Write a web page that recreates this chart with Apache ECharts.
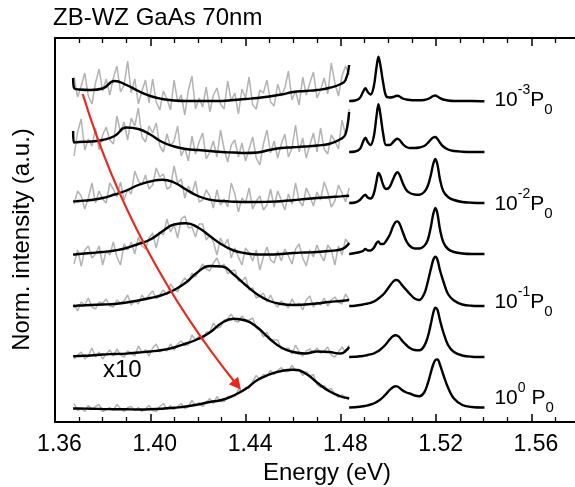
<!DOCTYPE html>
<html>
<head>
<meta charset="utf-8">
<script src="https://cdn.jsdelivr.net/npm/echarts@6/dist/echarts.min.js"></script>
<style>
  html, body { margin: 0; padding: 0; background: #ffffff; overflow: hidden; }
  #chart { width: 575px; height: 487px; }
</style>
</head>
<body>
<div id="chart"></div>
<script>
// Power-dependent PL spectra of ZB-WZ GaAs nanowires (70 nm), stacked with vertical offsets.
// Left part (1.368-1.4835 eV) is magnified x10; right part shows the near-band-edge peaks.

// Vertical offset of each spectrum (a.u.), lowest power at top
const offsets = [321, 270, 219, 168, 116, 65, 14.5];

// Energy grid of the raw (noisy) low-energy data
const energyRaw = [1.3680,1.3695,1.3710,1.3725,1.3740,1.3755,1.3770,1.3785,1.3800,1.3815,1.3830,1.3845,1.3860,1.3875,1.3890,1.3905,1.3920,1.3935,1.3950,1.3965,1.3980,1.3995,1.4010,1.4025,1.4040,1.4055,1.4070,1.4085,1.4100,1.4115,1.4130,1.4145,1.4160,1.4175,1.4190,1.4205,1.4220,1.4235,1.4250,1.4265,1.4280,1.4295,1.4310,1.4325,1.4340,1.4355,1.4370,1.4385,1.4400,1.4415,1.4430,1.4445,1.4460,1.4475,1.4490,1.4505,1.4520,1.4535,1.4550,1.4565,1.4580,1.4595,1.4610,1.4625,1.4640,1.4655,1.4670,1.4685,1.4700,1.4715,1.4730,1.4745,1.4760,1.4775,1.4790,1.4805,1.4820,1.4835];

// Raw low-energy intensities (x10), one array per excitation power
const raw1 = [24,4,15,28,5,-3,18,32,10,22,6,23,35,9,16,40,8,22,-3,10,21,-2,22,-1,-9,10,2,-9,21,-1,6,-14,11,25,-8,3,-6,14,-11,6,13,-3,-8,20,0,8,-13,12,3,24,-4,-8,11,8,21,-1,-5,17,5,13,30,1,10,-4,24,6,18,29,3,11,23,7,38,18,5,25,35,26];
const raw2 = [-4,20,33,2,13,6,24,2,17,25,12,8,36,20,30,12,34,26,44,15,10,26,19,29,6,0,18,6,11,26,-4,4,-9,16,-2,10,19,-7,0,11,-5,22,3,-10,7,12,-5,9,-9,3,15,-6,-13,8,22,-1,11,-6,8,18,-5,4,27,0,14,-6,7,19,0,24,3,-2,17,11,3,32,17,43];
const raw3 = [-1,12,7,-6,5,20,0,12,4,0,20,14,6,21,3,14,9,32,22,18,28,14,18,35,26,29,14,16,37,20,24,5,17,9,22,1,3,13,7,-5,13,-2,4,-4,20,9,-9,5,0,15,-6,2,7,-7,-2,14,-4,12,3,-7,9,-1,20,2,-3,15,7,-3,11,3,21,11,-4,2,18,10,1,15];
const raw4 = [-10,4,-12,4,8,-4,0,8,-11,3,-1,12,-3,-11,10,4,12,0,17,8,5,16,21,6,22,19,35,22,29,16,35,38,26,27,17,30,30,14,19,12,-1,16,8,15,-4,6,-3,-11,6,1,-7,4,-16,-3,7,-6,-9,3,-7,5,-2,-10,5,10,-4,-12,4,-3,9,-1,-7,9,4,-11,8,-1,15,10];
const raw5 = [2,-5,4,1,8,-1,-3,4,3,7,0,-1,6,3,5,11,1,5,2,11,6,11,15,7,11,16,11,22,17,14,23,28,24,33,29,36,42,37,35,43,48,39,42,32,35,36,25,25,29,16,18,8,10,13,4,11,3,-1,5,2,-2,7,1,3,-4,6,10,-1,4,1,8,0,6,9,4,2,12,6];
const raw6 = [-2,2,5,-2,1,9,0,5,-2,3,7,1,8,2,0,6,4,1,11,5,7,1,9,13,5,8,6,13,7,13,16,12,12,22,17,21,16,25,25,34,29,30,37,38,43,36,35,41,37,37,39,29,27,20,25,17,17,17,8,8,9,3,12,5,1,6,8,4,9,4,6,10,2,0,5,10,5,12];
const raw7 = [4,-3,-1,-4,2,-2,1,3,-4,-2,0,-3,3,-1,-4,0,1,-3,0,-4,-1,2,-3,-4,1,4,-2,2,-2,1,4,-1,1,7,2,5,1,5,9,4,11,6,6,11,11,11,18,16,20,19,26,32,28,33,32,37,33,37,40,36,36,42,37,38,32,36,31,33,23,20,22,18,19,13,10,13,10,10];

// Energy grid of the smoothed low-energy curves
const energySmooth = [1.3676,1.3680,1.370,1.375,1.380,1.385,1.390,1.395,1.400,1.405,1.410,1.415,1.420,1.425,1.430,1.435,1.440,1.445,1.450,1.455,1.460,1.465,1.470,1.475,1.480,1.482,1.4835];

const smooth1 = [23,13,11.5,11,12.5,20,16,10,5,2,0.5,0,0,0,0,1,2,3,4.5,6.5,9,10,11,13,17,21,36];
const smooth2 = [21,9.5,10,10.5,12,16,24.5,23,17.5,10,5.5,3,2,1,0,-0.5,-1,-0.5,2,4,4.7,5.5,6.5,8,13,18,40];
const smooth3 = [1.6,1.6,2,3,5,8.5,12.5,18,21.5,23.3,20.5,13.5,7,3.3,2,1.3,1,1,1.3,1.8,2.8,4,5,5.8,6.6,7,7.3];
const smooth4 = [-0.5,-0.5,0,1,2,3.5,6,10,14.5,22.5,29.5,30.8,26.5,18,9.5,3.5,0.8,-0.5,-0.5,0,1,1.5,2,3,4.5,7,11];
const smooth5 = [0,0,0.5,1,1.5,2,3.5,5.5,8,11,16,23.5,34,40,39.5,31.5,21,11.5,5,2,1,1.5,2.5,4,5,5.5,6];
const smooth6 = [0.7,0.7,1,1.5,2.5,3,3.4,4.5,5.5,7,9.5,13.5,18,24.5,34,38.2,36.5,29.5,18.5,9.5,5,3.5,5.5,5,3.5,6,10];
const smooth7 = [-1,-1,-1,-1.2,-1.5,-1.7,-1.8,-2,-1.8,-1.2,-0.2,1,3,5.5,7.5,12,18.5,27.5,33,36.5,37.8,34.3,25,16.5,11,9.8,9];

// Energy grid of the near-band-edge part
const energyEdge = [1.4835,1.4860,1.4880,1.4893,1.4903,1.4913,1.4925,1.4938,1.4950,1.4958,1.4966,1.4978,1.4990,1.5005,1.5020,1.5030,1.5038,1.5047,1.5060,1.5075,1.5090,1.5110,1.5130,1.5150,1.5165,1.5178,1.5188,1.5197,1.5206,1.5216,1.5230,1.5250,1.5275,1.5310,1.5350,1.5403];

const edge1 = [0,0.5,3,9,12.7,9,6.5,14,34,44.3,36,18,5,3.5,4,5,5.3,4.5,2.5,1.5,1,0.7,0.7,1,2,3.5,5,5.5,4.5,3,1.5,0.5,0,0,0,-0.3];
const edge2 = [0,0.5,3,10,14.3,10,7,15,36,47.7,38,18,7,7,10,12.5,13.3,12,8,5,4,4,4.5,6,9,12.5,14.5,15,13,9.5,5.5,2.5,1,0.3,0,0];
const edge3 = [0,0.5,3,6.5,8.3,5.5,4.5,9,22,30,27,18,14,16,24,29,30.7,28,20,13,10,8.5,8.3,11,17,28,39,44,38,24,12,6,3,1,0.3,0];
const edge4 = [0,1,2,3,5,3.5,3.5,6,11,12.6,10,10,13,19,28,32,32.6,30,22,13,8,5.5,5.5,8,14,27,40,46,40,25,12,5,2,0.5,0,0];
const edge5 = [0,0.3,1,1.5,2,2.5,3.2,4.3,6,7.5,9,11.5,15,20,24.5,26,25.8,24,20,16,12,7.5,6,12,24,37,46,49.3,46,36,25,12,5.5,1.5,0.3,0];
const edge6 = [0,0.2,0.7,1,1.5,2,2.7,3.5,5,6,7.5,10,13,17.5,21,21.7,21.3,19.5,15.5,12,9,7,6.7,11,20,33,44,49.4,47,37,25,12,5,1.5,0.3,0];
const edge7 = [0,0.2,0.7,1.2,1.7,2.2,3,4,5.5,6.7,8,10.5,13.5,17.5,20.5,21.3,21,19.5,17,15,14,12,11.3,15,24,35,43,47.5,48,43,33,20,9,2.5,0.5,0];

// Excitation power labels: exponent of P0 and which spectrum they sit next to
const powerExponents = ['-3', '-2', '-1', '0'];
const powerTrace = [0, 2, 4, 6];

// Axis ticks (labels stop at 1.56)
const energyMin = 1.36, energyMax = 1.58, energyStep = 0.04, lastLabel = 1.56;

const rawSets = [raw1, raw2, raw3, raw4, raw5, raw6, raw7];
const smoothSets = [smooth1, smooth2, smooth3, smooth4, smooth5, smooth6, smooth7];
const edgeSets = [edge1, edge2, edge3, edge4, edge5, edge6, edge7];

const FONT = "'Liberation Sans', Arial, Helvetica, sans-serif";
const TEXT = '#000000';

function stacked(xs, ys, off) {
  return xs.map((x, i) => [x, ys[i] + off]);
}

const series = [];
offsets.forEach((off, i) => {
  series.push({
    type: 'line', name: 'raw' + (i + 1),
    data: stacked(energyRaw, rawSets[i], off),
    showSymbol: false, smooth: false, z: 1, silent: true,
    lineStyle: { color: '#b3b3b3', width: 1.5 }
  });
});
offsets.forEach((off, i) => {
  series.push({
    type: 'line', name: 'smooth' + (i + 1),
    data: stacked(energySmooth, smoothSets[i], off),
    showSymbol: false, smooth: 0.5, z: 3, silent: true,
    lineStyle: { color: '#000000', width: 2.4 }
  });
  series.push({
    type: 'line', name: 'edge' + (i + 1),
    data: stacked(energyEdge, edgeSets[i], off),
    showSymbol: false, smooth: 0.35, z: 3, silent: true,
    lineStyle: { color: '#000000', width: 2.4 }
  });
});

// Red arrow following the shift of the low-energy band with power
series.push({
  type: 'lines', coordinateSystem: 'cartesian2d', polyline: false, silent: true, z: 6,
  symbol: ['triangle', 'none'], symbolSize: [12, 16],
  lineStyle: { color: '#e8281c', width: 2.2, curveness: 0.097, opacity: 1 },
  effect: { show: false },
  data: [{ coords: [[1.43651, 36.8], [1.37164, 328]] }]
});

const axisCommon = {
  type: 'value', min: energyMin, max: energyMax, interval: energyStep,
  axisLine: { show: true, onZero: false, lineStyle: { color: '#000', width: 2 } },
  axisTick: { show: true, inside: true, length: 8, lineStyle: { color: '#000', width: 1.5 } },
  minorTick: { show: true, splitNumber: 4, length: 5, lineStyle: { color: '#000', width: 1.3 } },
  splitLine: { show: false }, minorSplitLine: { show: false }
};

const option = {
  animation: false,
  backgroundColor: '#ffffff',
  grid: { left: 55, right: -4, top: 38, bottom: 65, containLabel: false, outerBoundsMode: 'none' },
  title: {
    text: 'ZB-WZ GaAs 70nm', left: 53, top: 6, padding: 0,
    textStyle: { fontFamily: FONT, fontSize: 24, fontWeight: 'normal', color: TEXT }
  },
  xAxis: [
    Object.assign({}, axisCommon, {
      position: 'bottom',
      name: 'Energy (eV)', nameLocation: 'middle', nameGap: 38,
      nameTextStyle: { fontFamily: FONT, fontSize: 24, color: TEXT, padding: [0, 0, 0, 20] },
      axisLabel: {
        show: true, margin: 11, fontFamily: FONT, fontSize: 23, color: TEXT,
        padding: [0, 0, 0, 9], showMaxLabel: false,
        formatter: (v) => (v > lastLabel + 0.001 ? '' : v.toFixed(2))
      }
    }),
    Object.assign({}, axisCommon, {
      position: 'top', axisLabel: { show: false }
    })
  ],
  yAxis: {
    type: 'value', min: 0, max: 384,
    name: 'Norm. intensity (a.u.)', nameLocation: 'middle', nameGap: 21,
    nameTextStyle: { fontFamily: FONT, fontSize: 24, color: TEXT, padding: [0, 19, 0, 0] },
    axisLine: { show: true, lineStyle: { color: '#000', width: 2 } },
    axisTick: { show: false }, axisLabel: { show: false }, splitLine: { show: false }
  },
  graphic: [{
    type: 'text', left: 103, top: 358, silent: true,
    style: { text: 'x10', fontFamily: FONT, fontSize: 24, fill: TEXT }
  }],
  series: series
};

const chart = echarts.init(document.getElementById('chart'), null, { renderer: 'canvas' });
chart.setOption(option);

// Power labels beside the right-hand tails, placed through the chart's own scales
const labelLift = [0.5, -1, 4, 9];
const richStyles = {
  n: { fontFamily: FONT, fontSize: 21, fill: TEXT, lineHeight: 34, verticalAlign: 'middle' },
  sup: { fontFamily: FONT, fontSize: 14, fill: TEXT, lineHeight: 22, verticalAlign: 'top' },
  sub: { fontFamily: FONT, fontSize: 15, fill: TEXT, lineHeight: 14, verticalAlign: 'bottom' }
};
const labelGraphics = powerExponents.map((e, k) => {
  const pt = chart.convertToPixel({ gridIndex: 0 }, [1.5445, offsets[powerTrace[k]] + labelLift[k]]);
  const txt = e === '0' ? '{n|10}{sup|0}{n| P}{sub|0}' : '{n|10}{sup|' + e + '}{n|P}{sub|0}';
  return {
    type: 'text', x: pt[0], y: pt[1], silent: true, z: 10,
    style: { text: txt, rich: richStyles, align: 'left', verticalAlign: 'middle', fill: TEXT }
  };
});
chart.setOption({
  graphic: [{
    type: 'text', left: 103, top: 358, silent: true,
    style: { text: 'x10', fontFamily: FONT, fontSize: 24, fill: TEXT }
  }].concat(labelGraphics)
});
</script>
</body>
</html>
